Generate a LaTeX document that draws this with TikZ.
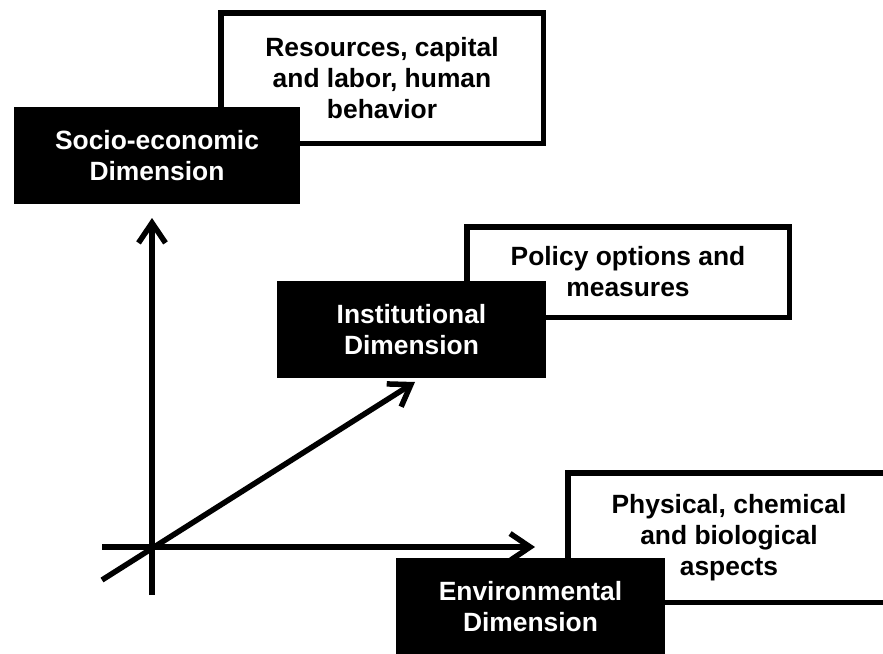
\documentclass[tikz,border=0pt]{standalone}
\usepackage{fontspec}
\setmainfont{Liberation Sans}
\usepackage{tikz}
\usetikzlibrary{arrows.meta}

\tikzset{
  dimbox/.style={fill=black, text=white, inner sep=0pt, align=center,
    font=\bfseries\fontsize{26.4}{31}\selectfont},
  aspectbox/.style={draw=black, line width=5.5pt, fill=white, inner sep=0pt,
    align=center, font=\bfseries\fontsize{26.4}{31}\selectfont},
  axisarrow/.style={line width=5.5pt, -{Straight Barb[length=20pt,width=27pt]}},
}

\begin{document}
\begin{tikzpicture}[x=1pt,y=-1pt]
  % 座標は px 相当(y は下向き)
  \useasboundingbox (0,0) rectangle (883,653);
  \clip (0,0) rectangle (883,653);

  % 白枠:各次元の中身(右下の枠は紙面の外まで)
  \node[aspectbox, minimum width=322.5pt, minimum height=130.5pt]
    (res) at (382,78) {Resources, capital\\and labor, human\\behavior};
  \node[aspectbox, minimum width=322.5pt, minimum height=90.5pt]
    (pol) at (628,272) {Policy options and\\measures};
  \node[aspectbox, minimum width=322.5pt, minimum height=129.5pt]
    (phys) at (729,537.5) {Physical, chemical\\and biological\\aspects};

  % 3 本の軸
  \coordinate (ybot) at (152,595);
  \coordinate (ytip) at (152,218);
  \coordinate (xbot) at (102,547);
  \coordinate (xtip) at (535,547);
  \coordinate (zbot) at (102,580);
  \coordinate (ztip) at (415,382);
  \draw[axisarrow] (ybot) -- (ytip);
  \draw[axisarrow] (xbot) -- (xtip);
  \draw[axisarrow] (zbot) -- (ztip);

  % 黒箱:次元の名前(軸の上に重ねる)
  \node[dimbox, minimum width=286pt, minimum height=97pt]
    (socio) at (157,155.5) {Socio-economic\\Dimension};
  \node[dimbox, minimum width=269pt, minimum height=97pt]
    (inst) at (411.5,329.5) {Institutional\\Dimension};
  \node[dimbox, minimum width=269pt, minimum height=97pt]
    (env) at (530.5,606.5) {Environmental\\Dimension};
\end{tikzpicture}
\end{document}
